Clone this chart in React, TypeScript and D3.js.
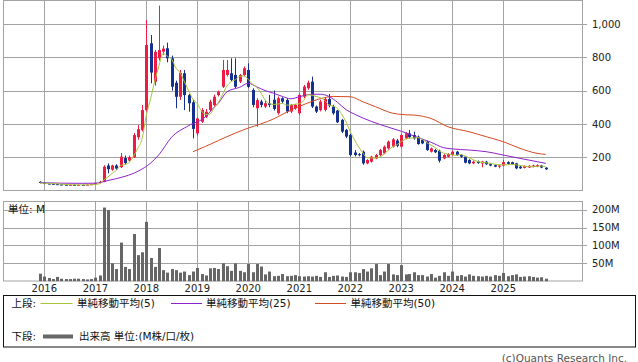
import React from "react";
import * as d3 from "d3";

// ---- Data (monthly candles, Dec 2015 .. Nov 2025) ----
const firstMonth = new Date(2015, 11, 1);
const lastMonthExclusive = new Date(2025, 11, 1);

const opens = [
  52, 45, 42, 40, 38, 36, 35, 33, 34, 33, 34, 33, 35,
  38, 45, 52, 150, 125, 150, 140, 195, 180, 200, 320, 363,
  483, 884, 653, 794, 834, 854, 794, 647, 563, 704, 573, 530,
  343, 413, 443, 483, 513, 573, 623, 694, 704, 694, 654, 694,
  724, 604, 494, 534, 504, 524, 545, 464, 554, 544, 474, 494,
  464, 564, 614, 654, 504, 484, 484, 550, 504, 480, 424, 364,
  334, 228, 218, 233, 163, 173, 193, 213, 223, 253, 263, 300,
  263, 313, 343, 333, 323, 303, 293, 233, 243, 239, 193, 203,
  213, 233, 213, 203, 183, 163, 173, 163, 173, 158, 152, 143,
  150, 170, 170, 163, 143, 136, 138, 143, 143, 150, 137,
];
const highs = [
  55, 48, 45, 43, 42, 38, 37, 36, 36, 36, 35, 37, 40,
  48, 58, 152, 163, 155, 158, 225, 210, 210, 345, 393, 513,
  1024, 934, 844, 1110, 870, 888, 810, 660, 724, 724, 580, 545,
  440, 495, 490, 545, 575, 600, 784, 784, 794, 794, 700, 745,
  764, 614, 555, 545, 540, 574, 600, 565, 560, 555, 520, 520,
  584, 634, 660, 684, 510, 545, 560, 580, 515, 484, 430, 370,
  340, 243, 225, 240, 188, 208, 220, 250, 270, 300, 315, 310,
  340, 350, 363, 353, 330, 310, 300, 258, 250, 245, 218, 225,
  240, 238, 218, 208, 188, 180, 180, 178, 178, 162, 156, 155,
  183, 176, 173, 166, 148, 150, 152, 155, 157, 154, 140,
];
const lows = [
  43, 38, 36, 35, 33, 32, 30, 31, 31, 31, 31, 31, 33,
  36, 42, 50, 103, 118, 125, 135, 155, 172, 195, 305, 355,
  475, 644, 630, 780, 815, 770, 600, 494, 543, 483, 473, 313,
  330, 405, 435, 475, 505, 565, 615, 685, 655, 615, 645, 685,
  615, 500, 383, 500, 495, 500, 480, 455, 525, 465, 465, 485,
  454, 555, 605, 495, 465, 475, 475, 500, 455, 405, 345, 315,
  205, 205, 205, 155, 158, 168, 188, 205, 218, 245, 258, 260,
  258, 308, 313, 305, 275, 278, 238, 228, 225, 168, 188, 198,
  208, 208, 198, 163, 158, 158, 160, 139, 153, 146, 140, 133,
  146, 156, 153, 128, 130, 132, 135, 139, 140, 134, 124,
];
const closes = [
  45, 42, 40, 38, 36, 35, 33, 34, 33, 34, 33, 35, 38,
  45, 52, 143, 128, 150, 132, 203, 165, 200, 333, 368, 483,
  874, 708, 833, 844, 852, 794, 623, 563, 707, 573, 524, 370,
  433, 483, 473, 533, 563, 593, 724, 724, 664, 623, 694, 734,
  623, 514, 543, 514, 524, 514, 490, 554, 534, 474, 514, 514,
  574, 624, 648, 504, 474, 534, 550, 510, 464, 410, 354, 324,
  213, 213, 213, 163, 183, 203, 213, 243, 263, 293, 307, 268,
  333, 343, 320, 313, 279, 283, 243, 253, 230, 179, 213, 219,
  233, 213, 203, 167, 163, 173, 165, 173, 158, 150, 143, 150,
  170, 160, 158, 133, 133, 146, 148, 150, 152, 138, 127,
];
// volume in millions
const volumes = [
  21, 13, 9, 6, 12, 7, 6, 6, 7, 7, 6, 5, 6,
  10, 16, 206, 199, 50, 34, 108, 40, 34, 132, 73, 81,
  166, 65, 40, 93, 31, 24, 34, 31, 24, 27, 17, 27,
  37, 20, 16, 36, 37, 34, 50, 42, 29, 50, 29, 25,
  48, 25, 48, 41, 19, 27, 14, 15, 20, 14, 15, 17,
  14, 13, 14, 13, 15, 12, 25, 12, 15, 16, 13, 12,
  25, 25, 23, 34, 27, 36, 48, 17, 27, 48, 19, 17,
  45, 19, 20, 25, 17, 17, 13, 20, 10, 15, 25, 15,
  27, 15, 17, 13, 19, 15, 14, 13, 15, 13, 17, 15,
  23, 14, 17, 19, 12, 13, 14, 12, 10, 11, 7,
];

// Moving-average lines: [month index from Dec 2015, value]
const ma25Points: [number, number][] = [
  [0, 47], [5, 44], [10, 43], [13, 44], [16, 60], [20, 85], [23, 115], [26, 165],
  [28, 215], [31, 320], [35, 390], [39, 443], [41, 500], [42, 524], [44, 593],
  [47, 620], [49, 644], [51, 623], [53, 600], [55, 584], [57, 565], [59, 551],
  [61, 563], [64, 578], [66, 578], [68, 565], [70, 530], [72, 486], [74, 458],
  [78, 415], [82, 380], [85, 356], [89, 318], [92, 290], [95, 257], [97, 250],
  [101, 243], [105, 233], [109, 213], [113, 193], [117, 173], [119, 163],
];
const ma50Points: [number, number][] = [
  [36, 233], [39, 265], [42, 300], [46, 345], [49, 375], [52, 400], [55, 430],
  [58, 470], [61, 505], [64, 535], [67, 558], [69, 565], [73, 563], [76, 533],
  [79, 503], [83, 464], [86, 455], [88, 453], [92, 433], [96, 383], [101, 353],
  [105, 323], [109, 293], [113, 253], [117, 223], [119, 217],
];

const priceTicks = [200, 400, 600, 800, 1000];
const volumeTicks = [50, 100, 150, 200];
const yearTicks = [2016, 2017, 2018, 2019, 2020, 2021, 2022, 2023, 2024, 2025];

const legendTop = "上段:";
const legendBottom = "下段:";
const legendItems = ["単純移動平均(5)", "単純移動平均(25)", "単純移動平均(50)"];
const volumeLegend = "出来高 単位:(M株/口/枚)";

// ---- Style ----
const W = 638;
const H = 362;
const FONT = "'DejaVu Sans', 'Noto Sans CJK JP', sans-serif";
const GRID = "#a3a3a3";
const UP = "#ee1c45";
const DOWN = "#14318f";
const C5 = "#a8c43a";
const C25 = "#8e22cc";
const C50 = "#d44a22";
const VOL = "#666666";

const PL = 3.5, PR = 582.5, PT = 0.5, PB = 190.5;
const VT = 201.5, VB = 281;

export default function App() {
  const months = d3.timeMonth.range(firstMonth, lastMonthExclusive);
  const x = d3
    .scaleTime()
    .domain([new Date(2016, 0, 1), new Date(2025, 0, 1)])
    .range([44.3, 503.3]);
  const yP = d3.scaleLinear().domain([0, 1000]).range([190.5, 24]);
  const yV = d3.scaleLinear().domain([0, 200]).range([281.2, 209.7]);

  const cx = (i: number) => Math.round(x(months[i]));

  // SMA(5) of the closes
  const ma5: [number, number][] = closes.map((_, i) => [
    i,
    d3.mean(closes.slice(Math.max(0, i - 4), i + 1)) as number,
  ]);

  const line = d3
    .line<[number, number]>()
    .x((d) => x(months[d[0]]))
    .y((d) => yP(d[1]))
    .curve(d3.curveMonotoneX);

  const px = (v: number) => Math.round(v) + 0.5;

  return (
    <svg
      width={W}
      height={H}
      style={{ position: "absolute", left: 0, top: 0, background: "#fff" }}
      fontFamily={FONT}
    >
      <rect x={0} y={0} width={W} height={H} fill="#fff" />
      {/* ===== price panel ===== */}
      <g>
        {yearTicks.map((yr) => (
          <line
            key={"pg" + yr}
            x1={px(x(new Date(yr, 0, 1)))}
            x2={px(x(new Date(yr, 0, 1)))}
            y1={PT}
            y2={PB}
            stroke={GRID}
          />
        ))}
        {priceTicks.map((t) => (
          <line key={"ph" + t} x1={PL} x2={PR + 4.5} y1={px(yP(t))} y2={px(yP(t))} stroke={GRID} />
        ))}
        <rect x={PL} y={PT} width={PR - PL} height={PB - PT} fill="none" stroke={GRID} />
        {priceTicks.map((t) => (
          <text key={"pl" + t} x={592} y={yP(t)} dy="0.36em" fontSize={10} fill="#222">
            {d3.format(",")(t)}
          </text>
        ))}
      </g>
      {/* candles */}
      <g>
        {months.map((m, i) => {
          const up = closes[i] >= opens[i];
          const col = up ? UP : DOWN;
          const xc = cx(i);
          const top = yP(Math.max(opens[i], closes[i]));
          const bot = yP(Math.min(opens[i], closes[i]));
          return (
            <g key={"c" + i}>
              <line x1={xc + 0.5} x2={xc + 0.5} y1={yP(highs[i])} y2={yP(lows[i])} stroke={col} />
              <rect x={xc - 1} y={top} width={3} height={Math.max(1, bot - top)} fill={col} />
            </g>
          );
        })}
      </g>
      {/* moving averages */}
      <path d={line(ma50Points) || ""} fill="none" stroke={C50} strokeWidth={1} />
      <path d={line(ma25Points) || ""} fill="none" stroke={C25} strokeWidth={1} />
      <path d={line(ma5) || ""} fill="none" stroke={C5} strokeWidth={1} />

      {/* ===== volume panel ===== */}
      <g>
        {yearTicks.map((yr) => (
          <line
            key={"vg" + yr}
            x1={px(x(new Date(yr, 0, 1)))}
            x2={px(x(new Date(yr, 0, 1)))}
            y1={VT}
            y2={VB}
            stroke={GRID}
          />
        ))}
        {volumeTicks.map((t) => (
          <line key={"vh" + t} x1={PL} x2={PR + 4.5} y1={px(yV(t))} y2={px(yV(t))} stroke={GRID} />
        ))}
        <rect x={PL} y={VT} width={PR - PL} height={VB - VT} fill="none" stroke={GRID} />
        {volumeTicks.map((t) => (
          <text key={"vl" + t} x={592} y={yV(t)} dy="0.36em" fontSize={10} fill="#222">
            {t + "M"}
          </text>
        ))}
        {months.map((m, i) => (
          <rect
            key={"v" + i}
            x={cx(i) - 1}
            y={yV(volumes[i])}
            width={3}
            height={yV(0) - yV(volumes[i])}
            fill={VOL}
          />
        ))}
        <text x={8} y={213} fontSize={10.5} fill="#111">
          単位: M
        </text>
      </g>

      {/* year labels */}
      {yearTicks.map((yr) => (
        <text
          key={"yl" + yr}
          x={x(new Date(yr, 0, 1))}
          y={291.5}
          textAnchor="middle"
          fontSize={10}
          fill="#222"
        >
          {yr}
        </text>
      ))}

      {/* ===== legend ===== */}
      <rect x={3.5} y={295.5} width={632} height={51.5} fill="none" stroke="#111" />
      <text x={11.5} y={307} fontSize={10.5} fill="#111">
        {legendTop}
      </text>
      <line x1={40.5} x2={72.5} y1={303.5} y2={303.5} stroke={C5} />
      <text x={77} y={307} fontSize={10.5} fill="#111">
        {legendItems[0]}
      </text>
      <line x1={171} x2={202} y1={303.5} y2={303.5} stroke={C25} />
      <text x={206} y={307} fontSize={10.5} fill="#111">
        {legendItems[1]}
      </text>
      <line x1={315} x2={346} y1={303.5} y2={303.5} stroke={C50} />
      <text x={350.5} y={307} fontSize={10.5} fill="#111">
        {legendItems[2]}
      </text>
      <text x={11.5} y={340} fontSize={10.5} fill="#111">
        {legendBottom}
      </text>
      <line x1={43} x2={73} y1={336.5} y2={336.5} stroke={VOL} strokeWidth={4} />
      <text x={79} y={340} fontSize={10.5} fill="#111">
        {volumeLegend}
      </text>

      <text x={627} y={361.5} textAnchor="end" fontSize={10.5} fill="#555">
        (c)Quants Research Inc.
      </text>
    </svg>
  );
}
